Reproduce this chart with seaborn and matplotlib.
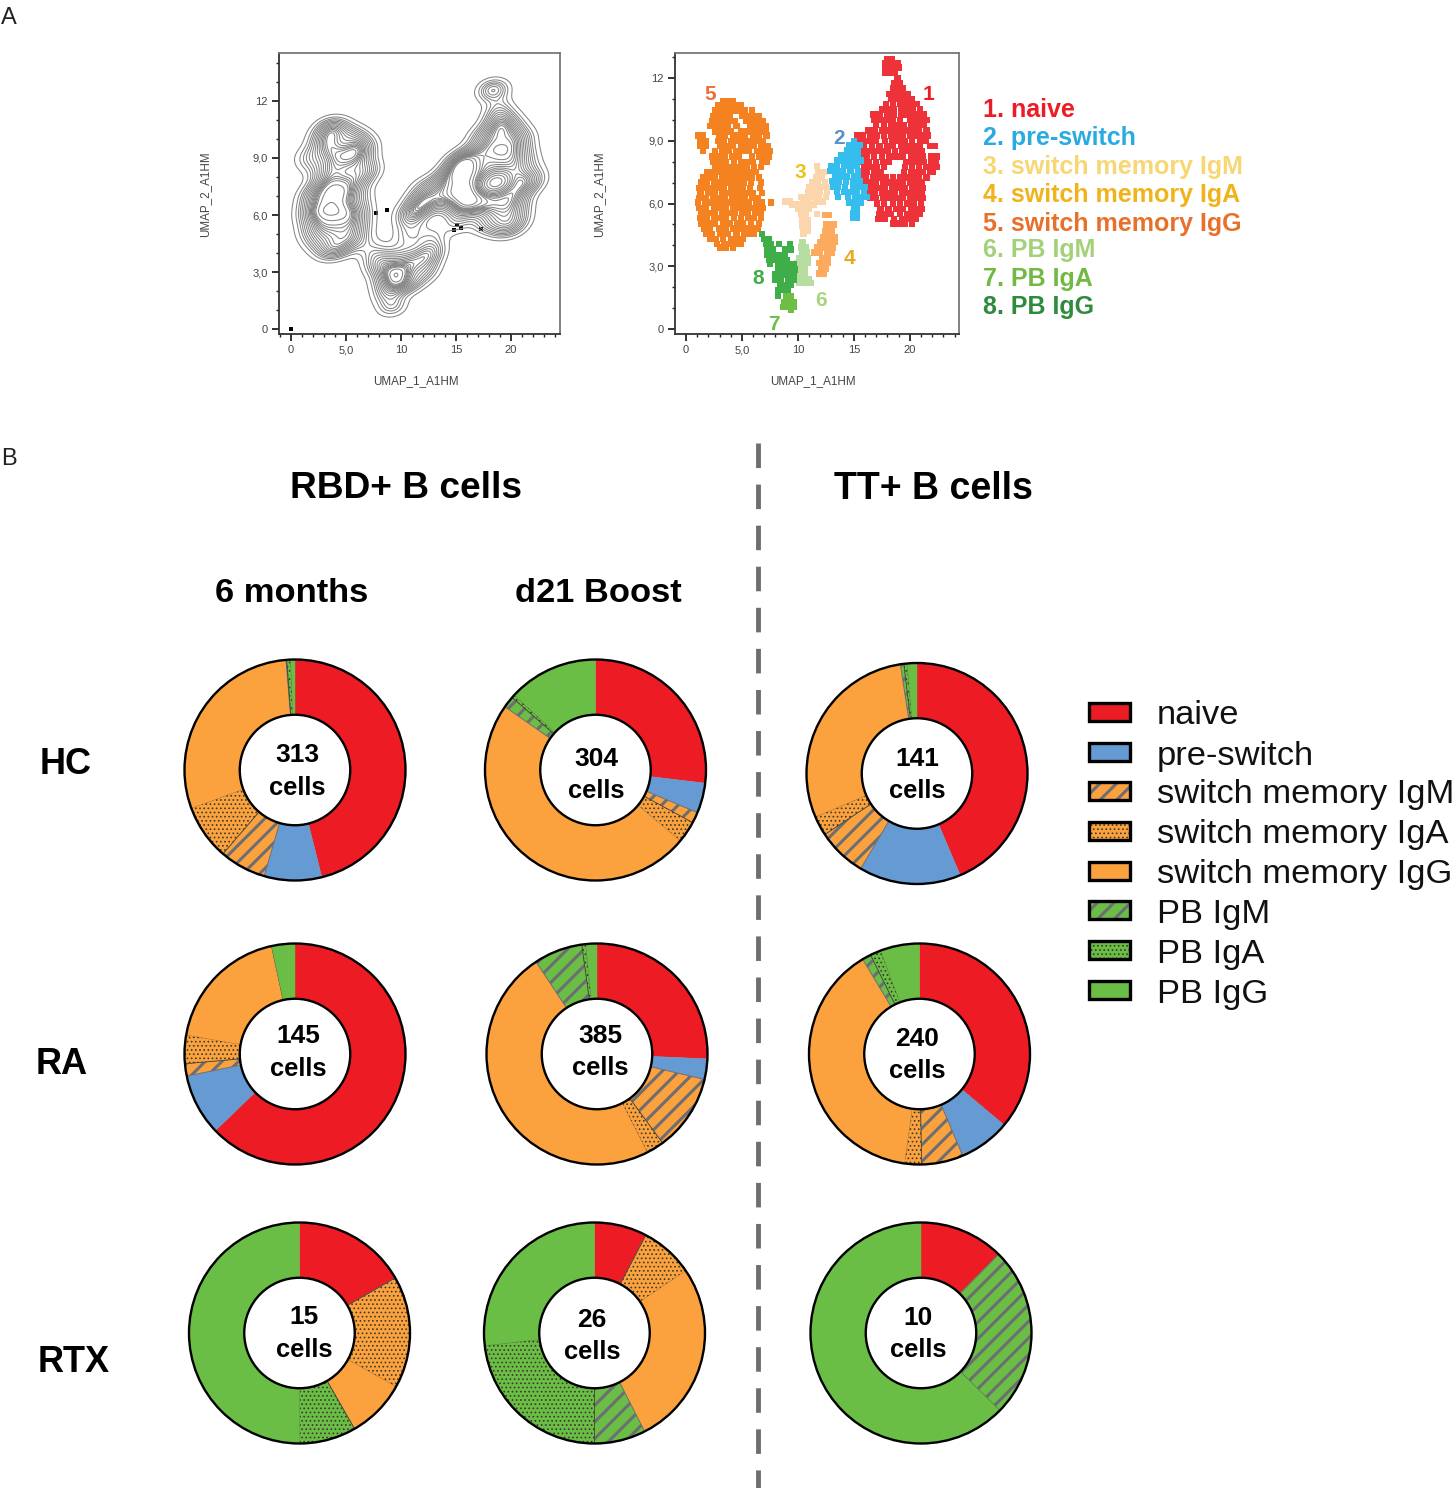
"""
Flow cytometry figure: UMAP panels of B cell clusters and donut charts of subset shares.
"""

import matplotlib.pyplot as plt
import pandas as pd
import seaborn as sns
from matplotlib.patches import Circle, Rectangle
from matplotlib.ticker import FixedLocator, FixedFormatter

WIDTH, HEIGHT = 1454, 1488

SUBSETS = ["naive", "pre-switch", "switch memory IgM", "switch memory IgA",
           "switch memory IgG", "PB IgM", "PB IgA", "PB IgG"]
SUBSET_COLORS = ["#ED1C24", "#659AD2", "#FBA23E", "#FBA23E", "#FBA23E", "#6ABD45", "#6ABD45", "#6ABD45"]
SUBSET_HATCHES = [None, None, "//", "....", None, "//", "....", None]

HC_6M = [46.1, 8.4, 6.8, 8.1, 29.3, 0.1, 0.6, 0.6]
HC_D21 = [26.9, 4.4, 1.6, 3.2, 48.6, 1.7, 0.5, 13.1]
HC_TT = [43.6, 14.9, 7.2, 2.9, 29.0, 0.5, 0.5, 1.4]
RA_6M = [62.8, 9.0, 1.8, 4.2, 18.8, 0.0, 0.0, 3.4]
RA_D21 = [25.7, 3.0, 11.2, 2.6, 48.2, 7.1, 0.6, 1.6]
RA_TT = [36.1, 7.5, 6.1, 2.5, 39.2, 1.3, 1.6, 5.7]
RTX_6M = [16.7, 0.0, 0.0, 16.4, 8.6, 0.0, 8.3, 50.0]
RTX_D21 = [7.7, 0.0, 0.0, 7.8, 27.0, 7.5, 23.2, 26.8]
RTX_TT = [12.4, 0.0, 0.0, 0.0, 0.0, 25.0, 0.0, 62.6]

CELL_COUNTS = ["313", "304", "141", "145", "385", "240", "15", "26", "10"]
DONUT_VALUES = [HC_6M, HC_D21, HC_TT, RA_6M, RA_D21, RA_TT, RTX_6M, RTX_D21, RTX_TT]
DONUT_CENTERS = [(295, 770), (595.5, 770), (917, 773.5), (295, 1054), (597, 1054), (919.5, 1054),
                 (299.5, 1333), (594.5, 1333), (921, 1333)]
COUNT_TEXT_POS = [(297, 755, 788), (596, 759, 791), (917, 759, 791), (298, 1036, 1069), (600, 1036, 1068),
                  (917, 1039, 1071), (304, 1317, 1350), (592, 1320, 1352), (918, 1318, 1350)]

X_TICKS = [0, 5, 10, 15, 20]
X_TICK_LABELS = ["0", "5,0", "10", "15", "20"]
Y_TICKS = [0, 3, 6, 9, 12]
Y_TICK_LABELS = ["0", "3,0", "6,0", "9,0", "12"]

# UMAP events, one (y, [x...]) row at a time
CLUSTER_1 = [
    (12.9, [18.0, 18.4]), (12.7, [17.8, 18.2, 18.6, 18.9]), (12.5, [17.8, 18.3, 18.8, 19.0]), (12.25, [17.8, 18.2, 18.7]),
    (12.0, [18.9]), (11.75, [18.6, 19.1]), (11.5, [18.5, 19.0, 19.4]), (11.25, [18.2, 18.7, 19.2, 19.8]),
    (11.0, [18.3, 18.8, 19.3, 19.8, 20.2]), (10.75, [17.9, 18.5, 19.1, 19.6, 20.1, 20.6]),
    (10.5, [17.5, 18.0, 18.6, 19.2, 19.8, 20.3, 20.9]), (10.25, [16.7, 17.3, 18.0, 18.6, 19.2, 19.8, 20.4, 20.9, 21.3]),
    (10.0, [16.8, 17.4, 18.0, 18.5, 19.1, 20.0, 20.5, 21.0, 21.5]), (9.75, [17.0, 17.7, 18.3, 18.9, 19.5, 20.1, 20.7, 21.3]),
    (9.5, [16.3, 16.9, 17.5, 18.0, 18.6, 19.1, 19.7, 20.3, 20.8, 21.5]),
    (9.25, [15.3, 15.8, 16.5, 17.1, 17.7, 18.3, 18.9, 19.4, 20.0, 20.6, 21.2, 21.6]),
    (9.0, [15.4, 15.9, 16.4, 17.0, 17.8, 18.4, 19.0, 19.6, 20.2, 20.9, 21.4]),
    (8.75, [15.4, 15.9, 16.6, 17.3, 18.0, 18.5, 19.2, 19.8, 20.4, 20.9, 21.8, 22.2]),
    (8.5, [15.7, 16.3, 16.8, 17.4, 18.0, 18.7, 19.3, 19.9, 20.5, 21.1]),
    (8.25, [15.6, 16.2, 16.8, 17.5, 18.2, 18.8, 19.4, 20.1, 20.6, 21.2, 21.9, 22.4]),
    (8.0, [15.8, 16.3, 17.0, 17.6, 18.1, 19.7, 20.2, 20.7, 21.3, 21.9, 22.3]),
    (7.75, [15.9, 16.5, 17.1, 17.7, 19.6, 20.2, 20.8, 21.5, 22.0, 22.4]),
    (7.5, [15.6, 16.2, 16.8, 17.4, 19.5, 20.1, 20.7, 21.2, 21.8, 22.1]),
    (7.25, [15.5, 16.1, 16.7, 17.3, 17.9, 18.5, 19.1, 19.7, 20.3, 20.8, 21.5]),
    (7.0, [15.8, 16.4, 17.0, 17.6, 18.2, 18.8, 19.4, 20.0, 20.6, 21.1]),
    (6.75, [16.2, 16.7, 17.2, 17.8, 18.4, 19.0, 19.6, 20.2, 20.7, 21.2]),
    (6.5, [16.3, 16.9, 17.5, 18.1, 18.7, 19.3, 19.9, 20.5, 21.1]),
    (6.25, [16.5, 17.0, 17.6, 18.2, 18.8, 19.4, 20.0, 20.6, 21.2]),
    (6.0, [17.1, 17.7, 18.5, 19.1, 19.8, 20.4, 21.0]), (5.75, [17.4, 18.1, 18.8, 19.4, 20.1, 20.7, 21.1]),
    (5.5, [17.3, 17.9, 18.3, 19.1, 19.8, 20.4, 20.9]), (5.25, [17.2, 17.8, 18.6, 19.3, 19.9, 20.5]),
    (5.05, [18.5, 19.0, 19.6, 20.2]),
]
CLUSTER_2 = [
    (9.0, [15.0]), (8.8, [14.6, 15.1, 15.5]), (8.55, [14.4, 14.9, 15.4]), (8.3, [13.9, 14.4, 14.9, 15.4]),
    (8.05, [13.5, 14.0, 14.6, 15.1, 15.6]), (7.8, [13.0, 13.5, 14.1, 14.7, 15.3]),
    (7.55, [12.9, 13.4, 14.0, 14.7, 15.4]), (7.3, [13.3, 13.9, 14.4, 15.0, 15.4]),
    (7.05, [13.1, 13.7, 14.3, 14.9, 15.5]), (6.8, [13.0, 13.6, 14.2, 14.9, 15.5, 16.0]),
    (6.55, [13.5, 14.1, 14.7, 15.3, 15.9]), (6.3, [13.6, 14.5, 15.1, 15.7, 16.2]), (6.05, [14.6, 15.1, 15.6]),
    (5.8, [15.0, 15.3]), (5.55, [14.9, 15.3]), (5.3, [14.9, 15.3]),
]
CLUSTER_3 = [
    (7.8, [11.7]), (7.5, [11.8, 12.3]), (7.25, [11.6, 12.1]), (7.0, [11.3, 11.8, 12.4]),
    (6.8, [11.0, 11.5, 12.1, 12.6]), (6.55, [10.9, 11.5, 12.0, 12.6]), (6.3, [10.3, 10.8, 11.3, 11.9, 12.5]),
    (6.1, [8.9, 9.3, 10.5, 11.0, 11.6, 12.2]), (5.95, [9.5, 9.9, 10.4, 10.9, 11.4]), (5.75, [10.0, 10.5, 11.0]),
    (5.5, [10.3, 10.7, 11.7]), (5.2, [10.4, 10.9]), (4.95, [10.4, 10.9]), (4.7, [10.5, 10.9]), (4.55, [10.5]),
]
CLUSTER_4 = [
    (5.45, [12.4, 12.8]), (5.0, [12.5, 13.0, 13.2]), (4.7, [12.4, 13.0]), (4.4, [12.3, 12.8, 13.3]),
    (4.15, [12.0, 12.5, 13.0, 13.3]), (3.9, [11.7, 12.1, 12.7, 13.1]), (3.65, [11.5, 12.0, 12.6, 13.0]),
    (3.4, [12.2, 12.7]), (3.15, [11.9, 12.3, 12.7]), (2.9, [12.1, 12.5]), (2.65, [11.9, 12.3]),
]
CLUSTER_5 = [
    (10.9, [3.3, 3.8, 4.2]), (10.7, [2.9, 3.4, 3.9, 4.4, 4.9]), (10.45, [2.6, 3.1, 3.7, 4.3, 4.8, 5.3, 5.9]),
    (10.2, [2.4, 2.9, 3.4, 3.9, 5.0, 5.5, 6.0, 6.5]), (9.95, [2.3, 2.8, 3.3, 3.8, 4.4, 5.4, 5.9, 6.4, 6.9]),
    (9.7, [2.2, 2.7, 3.2, 3.7, 4.5, 5.7, 6.2, 6.7, 7.1]), (9.45, [2.6, 3.1, 3.6, 4.0, 4.9, 5.5, 6.1, 6.6, 7.1]),
    (9.25, [1.1, 1.5, 3.0, 3.5, 4.2, 4.8, 5.3, 6.0, 6.5, 7.2]), (9.0, [1.3, 1.8, 2.9, 3.4, 4.0, 4.6, 5.2, 5.7, 6.3, 6.9]),
    (8.75, [1.3, 1.8, 3.1, 3.7, 4.2, 4.9, 5.5, 6.1, 6.7, 7.3]), (8.5, [1.5, 2.6, 3.2, 3.8, 4.5, 5.0, 5.6, 6.4, 7.0, 7.5]),
    (8.25, [2.3, 2.9, 3.5, 4.1, 4.7, 5.9, 6.5, 7.0, 7.4]), (8.0, [2.4, 3.0, 3.6, 4.3, 4.9, 5.5, 6.0, 6.8, 7.2]),
    (7.75, [2.6, 3.1, 3.7, 4.2, 4.8, 5.4, 6.1, 6.7]), (7.5, [1.9, 2.4, 3.0, 3.5, 4.0, 4.5, 5.1, 5.6, 6.2]),
    (7.25, [1.5, 2.0, 2.6, 3.2, 3.8, 4.4, 4.9, 5.4, 5.9, 6.5]), (7.0, [1.4, 1.9, 2.5, 3.0, 3.6, 4.1, 4.7, 5.2, 5.8, 6.7]),
    (6.75, [1.2, 1.8, 2.3, 2.9, 3.4, 4.0, 4.5, 5.1, 5.7, 6.6]), (6.5, [1.3, 2.0, 2.6, 3.2, 3.7, 4.3, 4.8, 5.4, 6.0, 6.8]),
    (6.25, [1.2, 1.8, 2.4, 2.9, 3.5, 4.1, 4.7, 5.3, 5.9, 6.4]),
    (6.05, [1.1, 1.7, 2.2, 2.8, 3.3, 3.9, 4.5, 5.0, 5.6, 6.3, 6.8, 7.6]),
    (5.8, [1.2, 1.8, 2.5, 3.1, 3.6, 4.2, 4.8, 5.4, 6.0, 6.5, 6.9]), (5.55, [1.4, 2.0, 2.6, 3.2, 3.8, 4.4, 5.0, 5.5, 6.2, 6.7]),
    (5.3, [1.3, 1.9, 2.5, 3.1, 3.6, 4.3, 4.9, 5.6, 6.1, 6.7]), (5.05, [1.4, 2.0, 2.6, 3.3, 3.9, 4.6, 5.1, 5.8, 6.5]),
    (4.8, [1.6, 2.1, 3.0, 3.6, 4.2, 4.8, 5.4, 6.0, 6.4]), (4.55, [1.8, 2.3, 3.1, 3.7, 4.5, 5.2, 5.7, 6.1]),
    (4.3, [2.2, 2.7, 3.3, 4.0, 4.6, 5.1]), (4.05, [2.8, 3.4, 3.9, 4.4, 4.9]), (3.9, [3.1, 3.6, 4.2]),
]
CLUSTER_6 = [
    (4.15, [10.4]), (3.9, [10.3, 10.7]), (3.65, [10.4, 10.8]), (3.4, [10.1, 10.6, 10.9]), (3.15, [9.9, 10.4, 10.9]),
    (2.9, [10.1, 10.6]), (2.65, [10.1, 10.6]), (2.4, [10.2, 10.6, 11.0]), (2.2, [10.1, 10.5, 10.9, 11.2]),
]
CLUSTER_7 = [(1.55, [9.0, 9.4]), (1.3, [8.8, 9.2, 9.6]), (1.05, [8.7, 9.1, 9.6]), (0.9, [9.4])]
CLUSTER_8 = [
    (4.55, [6.8]), (4.3, [7.0, 7.4]), (4.05, [7.2, 7.6, 8.3, 9.3]), (3.8, [7.3, 7.8, 8.9, 9.4]),
    (3.55, [7.3, 7.8, 8.3, 8.8]), (3.3, [7.4, 8.0, 8.5, 9.0]), (3.1, [7.5, 8.2, 8.7, 9.2, 9.6]),
    (2.85, [8.2, 8.7, 9.2, 9.7]), (2.6, [8.0, 8.5, 9.0, 9.6]), (2.35, [8.0, 8.5, 9.1, 9.6]),
    (2.1, [8.4, 8.9, 9.4]), (1.85, [8.2, 8.7, 9.1]), (1.6, [8.2]),
]
CLUSTERS = [CLUSTER_1, CLUSTER_2, CLUSTER_3, CLUSTER_4, CLUSTER_5, CLUSTER_6, CLUSTER_7, CLUSTER_8]
CLUSTER_COLORS = ["#EE3239", "#35BDEE", "#FBD5AC", "#FBAA5E", "#F58220", "#B7DDA0", "#6DBE45", "#3FAE49"]

OUTLIERS_X = [0.0, 7.7, 8.76, 15.06, 14.85, 15.45, 17.24]
OUTLIERS_Y = [0.0, 6.12, 6.24, 5.5, 5.24, 5.31, 5.26]

NUMBER_LABELS = ["1", "2", "3", "4", "5", "6", "7", "8"]
NUMBER_POS = [(928, 94), (839, 138), (800, 173), (849, 258), (710, 94), (821, 301), (774, 325), (758, 279)]
NUMBER_COLORS = ["#ED1C24", "#5B8FC9", "#EBC31C", "#E8A820", "#E8703A", "#A8D37F", "#6DBE45", "#3FAE49"]

KEY_LABELS = ["1. naive", "2. pre-switch", "3. switch memory IgM", "4. switch memory IgA", "5. switch memory IgG",
              "6. PB IgM", "7. PB IgA", "8. PB IgG"]
KEY_COLORS = ["#ED1C24", "#29ABE2", "#F7D774", "#F0B31C", "#E8702A", "#A4D07A", "#72B944", "#2E8B3D"]
KEY_ROWS = [110, 138, 167, 195, 224, 250, 279, 307]
LEGEND_ROWS = [712, 752, 791, 831, 871, 910, 950, 990]


def px_axes(fig, left, top, right, bottom):
    return fig.add_axes([left / WIDTH, 1 - bottom / HEIGHT, (right - left) / WIDTH, (bottom - top) / HEIGHT])


def style_umap(ax, xlim, ylim):
    ax.set_xlim(xlim)
    ax.set_ylim(ylim)
    ax.xaxis.set_major_locator(FixedLocator(X_TICKS))
    ax.xaxis.set_major_formatter(FixedFormatter(X_TICK_LABELS))
    ax.yaxis.set_major_locator(FixedLocator(Y_TICKS))
    ax.yaxis.set_major_formatter(FixedFormatter(Y_TICK_LABELS))
    ax.xaxis.set_minor_locator(FixedLocator(range(-1, 25)))
    ax.yaxis.set_minor_locator(FixedLocator(range(0, 15)))
    ax.tick_params(which="major", length=5, width=1.3, labelsize=8, color="#222222", labelcolor="#444444", pad=3)
    ax.tick_params(which="minor", length=2.5, width=1.0, color="#222222")
    ax.tick_params(which="both", bottom=True, left=True)
    ax.set_xlabel("")
    ax.set_ylabel("")
    for side, spine in ax.spines.items():
        spine.set_color("#333333" if side in ("left", "bottom") else "#777777")
        spine.set_linewidth(1.3)


def apply_hatch(patch, hatch):
    if hatch is None:
        patch.set_edgecolor(patch.get_facecolor())
        patch.set_linewidth(0.3)
    elif hatch == "//":
        patch.set_hatch(hatch)
        patch.set_edgecolor("#6D6E71")
        patch.set_linewidth(0.7)
        patch.set_hatch_linewidth(2.2)
    else:
        patch.set_hatch(hatch)
        patch.set_edgecolor("#3A3A2A")
        patch.set_linewidth(0.5)
        patch.set_hatch_linewidth(0.7)


def draw_donut(fig, values, center):
    radius = 110.5
    cx, cy = center
    pad = radius * 1.03
    ax = px_axes(fig, cx - pad, cy - pad, cx + pad, cy + pad)
    wedges, _ = ax.pie(values, colors=SUBSET_COLORS, startangle=90, counterclock=False, radius=1,
                       wedgeprops={"width": 0.5})
    for wedge, hatch in zip(wedges, SUBSET_HATCHES):
        apply_hatch(wedge, hatch)
    ax.add_patch(Circle((0, 0), 1, fill=False, edgecolor="black", linewidth=1.7))
    ax.add_patch(Circle((0, 0), 0.5, fill=False, edgecolor="black", linewidth=1.7))
    ax.set_xlim(-1.03, 1.03)
    ax.set_ylim(-1.03, 1.03)


sns.set_theme(style="white")
plt.rcParams["font.family"] = ["Liberation Sans", "DejaVu Sans"]

events = pd.DataFrame(
    [
        {"x": x, "y": y, "cluster": number}
        for number, rows in zip(NUMBER_LABELS, CLUSTERS)
        for y, xs in rows
        for x in xs
    ]
)

fig = plt.figure(figsize=(WIDTH / 100, HEIGHT / 100), dpi=100)

# A: contour panel built from the same events, leaving out the few that sit in the notch
in_notch = events["x"].between(6.9, 10.1) & events["y"].between(4.8, 6.5)
ax_contour = px_axes(fig, 279, 53, 560, 334)
sns.kdeplot(data=events[~in_notch], x="x", y="y", levels=20, thresh=0.05, bw_adjust=0.45, color="#858585",
            linewidths=0.75, ax=ax_contour)
sns.scatterplot(x=OUTLIERS_X, y=OUTLIERS_Y, marker="s", s=10, color="black", linewidth=0, ax=ax_contour)
style_umap(ax_contour, (-1.09, 24.45), (-0.24, 14.5))

# A: cluster panel
ax_scatter = px_axes(fig, 675, 53, 959, 334)
sns.scatterplot(data=events, x="x", y="y", hue="cluster", hue_order=NUMBER_LABELS, palette=CLUSTER_COLORS,
                marker="s", s=21, linewidth=0, legend=False, ax=ax_scatter)
style_umap(ax_scatter, (-0.98, 24.4), (-0.24, 13.2))

# B: donuts
for values, center in zip(DONUT_VALUES, DONUT_CENTERS):
    draw_donut(fig, values, center)

# everything placed by pixel goes on a full figure overlay
overlay = fig.add_axes([0, 0, 1, 1], zorder=10)
overlay.set_xlim(0, WIDTH)
overlay.set_ylim(HEIGHT, 0)
overlay.axis("off")

overlay.text(1, 18, "A", fontsize=17, va="center", color="#222222")
overlay.text(1, 459, "B", fontsize=17, va="center", color="#222222")

for x, label in ((416, "UMAP_1_A1HM"), (813, "UMAP_1_A1HM")):
    overlay.text(x, 381, label, fontsize=8.4, ha="center", va="center", color="#444444")
for x, label in ((205, "UMAP_2_A1HM"), (599, "UMAP_2_A1HM")):
    overlay.text(x, 194, label, fontsize=8.4, ha="center", va="center", rotation=90, color="#444444")

for label, (x, y), color in zip(NUMBER_LABELS, NUMBER_POS, NUMBER_COLORS):
    overlay.text(x, y, label, fontsize=15, fontweight="bold", ha="center", va="center", color=color)
for label, y, color in zip(KEY_LABELS, KEY_ROWS, KEY_COLORS):
    overlay.text(983, y, label, fontsize=18, fontweight="bold", va="center", color=color)

for x, y, label, size in ((406, 489, "RBD+ B cells", 26.7), (933, 489, "TT+ B cells", 27),
                          (292, 594, "6 months", 24.8), (598, 594, "d21 Boost", 24.8),
                          (66, 764, "HC", 26), (62, 1064, "RA", 26), (74, 1362, "RTX", 26)):
    overlay.text(x, y, label, fontsize=size, fontweight="bold", ha="center", va="center", color="black")

for count, (x, y_count, y_cells) in zip(CELL_COUNTS, COUNT_TEXT_POS):
    overlay.text(x, y_count, count, fontsize=19, fontweight="bold", ha="center", va="center", color="black")
    overlay.text(x, y_cells, "cells", fontsize=18.4, fontweight="bold", ha="center", va="center", color="black")

overlay.plot([758, 758], [443, 1488], color="#6D6E71", linewidth=3.5, dashes=(5.05, 3.4))

for y, label, color, hatch in zip(LEGEND_ROWS, SUBSETS, SUBSET_COLORS, SUBSET_HATCHES):
    box = Rectangle((1088.5, y - 9), 41, 18, facecolor=color, edgecolor="none")
    overlay.add_patch(box)
    if hatch is not None:
        apply_hatch(box, hatch)
        box.set_linewidth(0)
    overlay.add_patch(Rectangle((1088.5, y - 9), 41, 18, fill=False, edgecolor="black", linewidth=2.4))
    overlay.text(1157, y + 4, label, fontsize=24.8, va="center", color="#111111")

fig.savefig("out.png", dpi=100)
plt.close(fig)
